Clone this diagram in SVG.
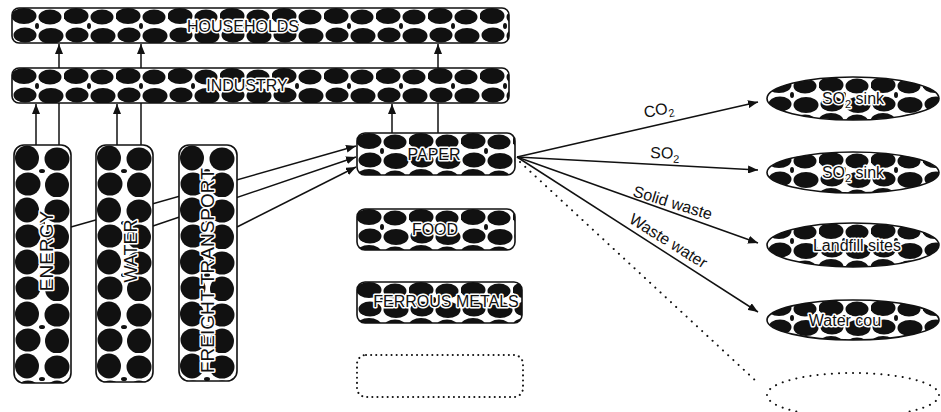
<svg xmlns="http://www.w3.org/2000/svg" width="941" height="412" viewBox="0 0 941 412">
<style>
.box{stroke:#111;stroke-width:1.6;}
.lbl{font-family:"Liberation Sans",Arial,sans-serif;fill:#111;stroke:#fff;stroke-width:3;paint-order:stroke;stroke-linejoin:round;}
.edge{stroke:#111;stroke-width:1.5;fill:none;}
.elbl{font-family:"Liberation Sans",Arial,sans-serif;font-size:16px;fill:#111;}
.dots{stroke:#111;stroke-width:2;fill:none;stroke-dasharray:0.1 7;stroke-linecap:round;}
</style>
<defs>
<pattern id="hb" width="52" height="36" patternUnits="userSpaceOnUse">
<rect width="52" height="36" fill="#fff"/>
<ellipse cx="12" cy="8" rx="12.5" ry="8" fill="#111"/>
<ellipse cx="38" cy="9" rx="11.5" ry="7.5" fill="#111"/>
<ellipse cx="13" cy="27" rx="11.5" ry="7.5" fill="#111"/>
<ellipse cx="39" cy="28" rx="12.5" ry="8" fill="#111"/>
<ellipse cx="25" cy="18" rx="2" ry="3" fill="#111"/>
</pattern>
<pattern id="vb" width="57" height="52" patternUnits="userSpaceOnUse">
<rect width="57" height="52" fill="#fff"/>
<ellipse cx="13" cy="13" rx="12" ry="12.5" fill="#111"/>
<ellipse cx="43" cy="14" rx="12.5" ry="11.5" fill="#111"/>
<ellipse cx="14" cy="39" rx="12.5" ry="11.5" fill="#111"/>
<ellipse cx="43" cy="40" rx="12" ry="12.5" fill="#111"/>
<ellipse cx="28" cy="26" rx="3" ry="2" fill="#111"/>
</pattern>
<marker id="ah" viewBox="0 0 10 8" refX="10" refY="4" markerWidth="10" markerHeight="8" markerUnits="userSpaceOnUse" orient="auto">
<path d="M0,0 L10,4 L0,8 Z" fill="#111"/>
</marker>
</defs>
<rect width="941" height="412" fill="#fff"/>
<g id="connectors">
<line class="edge" x1="36" y1="145" x2="36" y2="104" marker-end="url(#ah)"/>
<line class="edge" x1="59" y1="145" x2="59" y2="44" marker-end="url(#ah)"/>
<line class="edge" x1="117" y1="145" x2="117" y2="104" marker-end="url(#ah)"/>
<line class="edge" x1="141" y1="145" x2="141" y2="44" marker-end="url(#ah)"/>
<line class="edge" x1="392" y1="133" x2="392" y2="104" marker-end="url(#ah)"/>
<line class="edge" x1="438" y1="133" x2="438" y2="44" marker-end="url(#ah)"/>
<line class="edge" x1="71" y1="227" x2="356" y2="146" marker-end="url(#ah)"/>
<line class="edge" x1="153" y1="226" x2="356" y2="157" marker-end="url(#ah)"/>
<line class="edge" x1="237" y1="227" x2="356" y2="167" marker-end="url(#ah)"/>
<line class="edge" x1="517" y1="157" x2="758" y2="102" marker-end="url(#ah)"/>
<line class="edge" x1="517" y1="157" x2="758" y2="170" marker-end="url(#ah)"/>
<line class="edge" x1="517" y1="157" x2="758" y2="243" marker-end="url(#ah)"/>
<line class="edge" x1="517" y1="157" x2="758" y2="312" marker-end="url(#ah)"/>
<line class="dots" x1="520" y1="162" x2="757" y2="382"/>
<text class="elbl" transform="translate(645,118) rotate(-11)">CO<tspan font-size="11" dy="4">2</tspan></text>
<text class="elbl" transform="translate(650,158) rotate(2)">SO<tspan font-size="11" dy="4">2</tspan></text>
<text class="elbl" transform="translate(632,196) rotate(17)">Solid waste</text>
<text class="elbl" transform="translate(628,222) rotate(32)">Waste water</text>
</g>
<g id="households" transform="translate(12,8)">
<rect class="box" width="497" height="35" rx="7" fill="url(#hb)"/>
<text class="lbl" x="231" y="24" font-size="16" text-anchor="middle">HOUSEHOLDS</text>
</g>
<g id="industry" transform="translate(12,68)">
<rect class="box" width="497" height="35" rx="7" fill="url(#hb)"/>
<text class="lbl" x="235" y="23" font-size="16" text-anchor="middle">INDUSTRY</text>
</g>
<g id="energy" transform="translate(14,145)">
<rect class="box" width="57" height="238" rx="10" fill="url(#vb)"/>
<text class="lbl" transform="translate(39,106) rotate(-90)" font-size="19" text-anchor="middle">ENERGY</text>
</g>
<g id="water" transform="translate(96,145)">
<rect class="box" width="57" height="237" rx="10" fill="url(#vb)"/>
<text class="lbl" transform="translate(41,106) rotate(-90)" font-size="18" text-anchor="middle">WATER</text>
</g>
<g id="freight-transport" transform="translate(179,145)">
<rect class="box" width="58" height="236" rx="10" fill="url(#vb)"/>
<text class="lbl" transform="translate(35,228) rotate(-90)" font-size="19">FREIGHT TRANSPORT</text>
</g>
<g id="paper" transform="translate(357,133)">
<rect class="box" width="158" height="42" rx="8" fill="url(#hb)"/>
<text class="lbl" x="77" y="27" font-size="16" text-anchor="middle">PAPER</text>
</g>
<g id="food" transform="translate(357,209)">
<rect class="box" width="158" height="41" rx="8" fill="url(#hb)"/>
<text class="lbl" x="78" y="26" font-size="16" text-anchor="middle">FOOD</text>
</g>
<g id="ferrous-metals" transform="translate(357,282)">
<rect class="box" width="165" height="41" rx="8" fill="url(#hb)"/>
<text class="lbl" x="89" y="25" font-size="16" text-anchor="middle">FERROUS METALS</text>
</g>
<g id="empty-sector" transform="translate(357,355)">
<rect width="166" height="42" rx="9" fill="none" stroke="#111" stroke-width="2" stroke-dasharray="0.1 5" stroke-linecap="round"/>
</g>
<g id="co2-sink" transform="translate(767,77)">
<ellipse class="box" cx="86" cy="21.5" rx="86" ry="21.5" fill="url(#hb)"/>
<text class="lbl" x="86" y="27" font-size="16" text-anchor="middle">SO<tspan font-size="11" dy="4">2</tspan><tspan dy="-4"> sink</tspan></text>
</g>
<g id="so2-sink" transform="translate(767,152)">
<ellipse class="box" cx="86" cy="20.5" rx="86" ry="20.5" fill="url(#hb)"/>
<text class="lbl" x="86" y="26" font-size="16" text-anchor="middle">SO<tspan font-size="11" dy="4">2</tspan><tspan dy="-4"> sink</tspan></text>
</g>
<g id="landfill-sites" transform="translate(767,223)">
<ellipse class="box" cx="86" cy="22" rx="86" ry="22" fill="url(#hb)"/>
<text class="lbl" x="90" y="28" font-size="16" text-anchor="middle">Landfill sites</text>
</g>
<g id="water-courses" transform="translate(767,300)">
<ellipse class="box" cx="86" cy="20" rx="86" ry="20" fill="url(#hb)"/>
<text class="lbl" x="78" y="26" font-size="16" text-anchor="middle">Water cou</text>
</g>
<g id="empty-sink" transform="translate(767,373)">
<ellipse cx="86" cy="22" rx="86" ry="22" fill="none" stroke="#111" stroke-width="2" stroke-dasharray="0.1 7" stroke-linecap="round"/>
</g>
</svg>
